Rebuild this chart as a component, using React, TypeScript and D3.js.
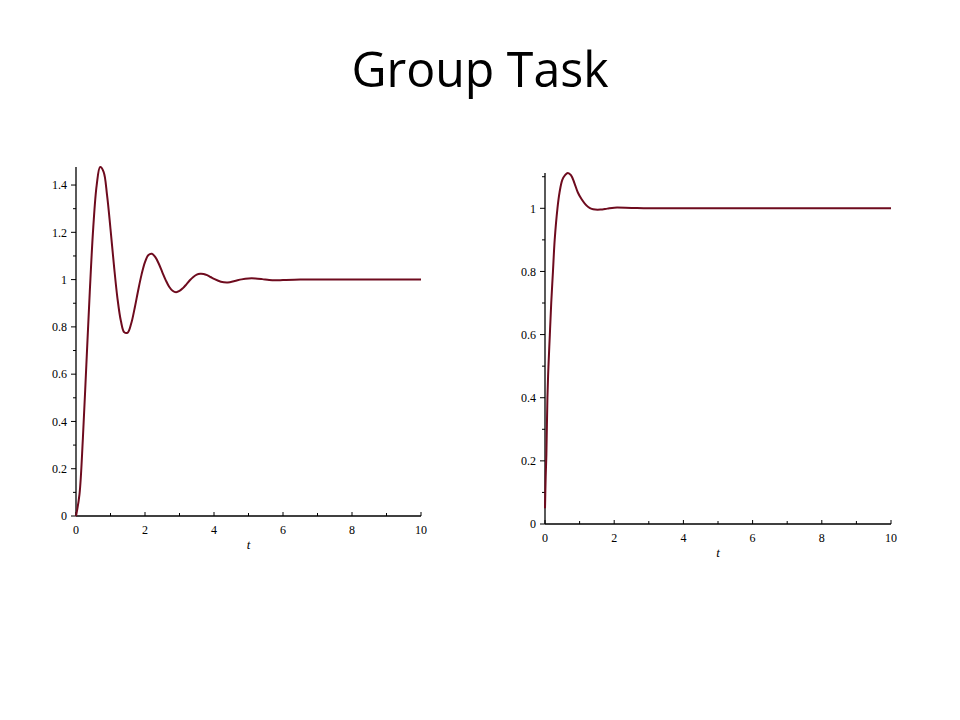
import * as d3 from "d3"

// left plot: underdamped step response
const leftT = [0, 0.1, 0.2, 0.3, 0.4, 0.5, 0.6, 0.7, 0.8, 0.9, 1.0, 1.1, 1.2, 1.3, 1.4, 1.5, 1.6, 1.7, 1.8, 1.9, 2.0, 2.1, 2.2, 2.3, 2.4, 2.5, 2.6, 2.7, 2.8, 2.9, 3.0, 3.1, 3.2, 3.3, 3.4, 3.5, 3.6, 3.7, 3.8, 3.9, 4.0, 4.2, 4.4, 4.6, 4.8, 5.0, 5.2, 5.4, 5.6, 5.8, 6.0, 6.5, 7, 8, 9, 10]
const leftY = [0, 0.09, 0.33, 0.64, 0.95, 1.22, 1.4, 1.476, 1.456, 1.357, 1.214, 1.06, 0.923, 0.826, 0.777, 0.776, 0.814, 0.879, 0.953, 1.021, 1.074, 1.104, 1.109, 1.095, 1.067, 1.032, 0.998, 0.97, 0.953, 0.947, 0.952, 0.964, 0.98, 0.997, 1.011, 1.021, 1.025, 1.024, 1.019, 1.011, 1.003, 0.991, 0.988, 0.994, 1.001, 1.005, 1.005, 1.002, 0.998, 0.997, 0.998, 1, 1, 1, 1, 1]

// right plot: faster, lightly overshooting response
const rightT = [0, 0.02, 0.04, 0.07, 0.1, 0.14, 0.18, 0.23, 0.28, 0.36, 0.42, 0.5, 0.58, 0.66, 0.75, 0.85, 0.95, 1.05, 1.15, 1.25, 1.35, 1.45, 1.6, 1.8, 2.0, 2.5, 3, 4, 5, 6, 7, 8, 9, 10]
const rightY = [0.05, 0.15, 0.22, 0.4, 0.5, 0.6, 0.7, 0.8, 0.9, 1.0, 1.05, 1.09, 1.105, 1.112, 1.105, 1.08, 1.05, 1.03, 1.015, 1.004, 0.998, 0.996, 0.996, 0.999, 1.002, 1.001, 1, 1, 1, 1, 1, 1, 1, 1]

const xMajor = [0, 2, 4, 6, 8, 10]
const xMinor = [1, 3, 5, 7, 9]
const leftYMajor = [0, 0.2, 0.4, 0.6, 0.8, 1, 1.2, 1.4]
const leftYMinor = [0.1, 0.3, 0.5, 0.7, 0.9, 1.1, 1.3]
const rightYMajor = [0, 0.2, 0.4, 0.6, 0.8, 1]
const rightYMinor = [0.1, 0.3, 0.5, 0.7, 0.9, 1.1]

const title = "Group Task"
const xLabel = "t"

const lineColor = "#6e0b1e"
const tickFont = "'Liberation Serif', 'DejaVu Serif', serif"

interface PlotProps {
  ts: number[]
  ys: number[]
  yMajor: number[]
  yMinor: number[]
  left: number
  right: number
  bottom: number
  pxPerUnit: number
}

function fmt(v: number) {
  return String(+v.toFixed(1))
}

function StepPlot({ ts, ys, yMajor, yMinor, left, right, bottom, pxPerUnit }: PlotProps) {
  const yMax = d3.max(ys) as number
  const x = d3.scaleLinear().domain([0, 10]).range([left, right])
  const y = d3.scaleLinear().domain([0, yMax]).range([bottom, bottom - yMax * pxPerUnit])

  const pts = ts.map((t, i) => [t, ys[i]] as [number, number])
  const line = d3
    .line<[number, number]>()
    .x((d) => x(d[0]))
    .y((d) => y(d[1]))
    .curve(d3.curveCatmullRom.alpha(0.5))

  const top = y(yMax)

  return (
    <g>
      {/* axes */}
      <line x1={x(0)} x2={x(10)} y1={bottom} y2={bottom} stroke="#000" strokeWidth={1.3} />
      <line x1={x(0)} x2={x(0)} y1={bottom} y2={top} stroke="#000" strokeWidth={1.3} />

      {/* x ticks */}
      {xMajor.map((v) => (
        <g key={"xm" + v}>
          <line x1={x(v)} x2={x(v)} y1={bottom} y2={bottom - 4} stroke="#000" />
          <text x={x(v)} y={bottom + 18} textAnchor="middle" fontFamily={tickFont} fontSize={12}>
            {fmt(v)}
          </text>
        </g>
      ))}
      {xMinor.map((v) => (
        <line key={"xn" + v} x1={x(v)} x2={x(v)} y1={bottom} y2={bottom - 3} stroke="#000" />
      ))}

      {/* y ticks */}
      {yMajor.map((v) => (
        <g key={"ym" + v}>
          <line x1={x(0)} x2={x(0) - 5} y1={y(v)} y2={y(v)} stroke="#000" />
          <text x={x(0) - 9} y={y(v)} dy="0.35em" textAnchor="end" fontFamily={tickFont} fontSize={12}>
            {fmt(v)}
          </text>
        </g>
      ))}
      {yMinor
        .filter((v) => v <= yMax)
        .map((v) => (
          <line key={"yn" + v} x1={x(0)} x2={x(0) - 3} y1={y(v)} y2={y(v)} stroke="#000" />
        ))}

      <text
        x={x(5)}
        y={bottom + 33}
        textAnchor="middle"
        fontFamily={tickFont}
        fontStyle="italic"
        fontSize={13}
      >
        {xLabel}
      </text>

      <path d={line(pts) ?? ""} fill="none" stroke={lineColor} strokeWidth={2} strokeLinejoin="round" />
    </g>
  )
}

export default function App() {
  return (
    <svg
      width={960}
      height={720}
      style={{ position: "absolute", left: 0, top: 0, background: "#fff" }}
    >
      <rect width={960} height={720} fill="#fff" />
      <text
        x={480}
        y={87}
        textAnchor="middle"
        fontFamily="'Open Sans', 'Liberation Sans', sans-serif"
        fontSize={49}
        textLength={257}
        lengthAdjust="spacingAndGlyphs"
        fill="#000"
      >
        {title}
      </text>
      <StepPlot
        ts={leftT}
        ys={leftY}
        yMajor={leftYMajor}
        yMinor={leftYMinor}
        left={76}
        right={421}
        bottom={516}
        pxPerUnit={236.4}
      />
      <StepPlot
        ts={rightT}
        ys={rightY}
        yMajor={rightYMajor}
        yMinor={rightYMinor}
        left={545}
        right={891}
        bottom={524}
        pxPerUnit={315.7}
      />
    </svg>
  )
}
